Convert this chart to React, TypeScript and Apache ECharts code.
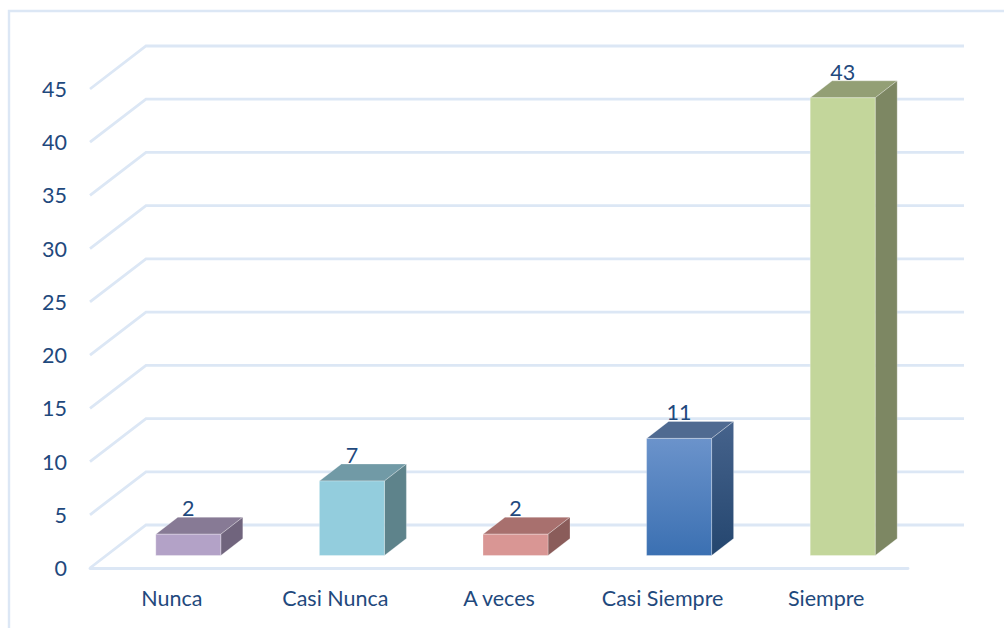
import React, { useEffect, useRef } from "react";
import * as echarts from "echarts";

const categories = ["Nunca", "Casi Nunca", "A veces", "Casi Siempre", "Siempre"];
const values = [2, 7, 2, 11, 43];
const yTicks = [0, 5, 10, 15, 20, 25, 30, 35, 40, 45];

// front, top and side face colours of each column; a pair is a top-to-bottom gradient
const frontColors = ["#b3a2c7", "#93cddd", "#d99694", ["#6b93cb", "#3b70b2"], "#c3d69b"];
const topColors = ["#877a95", "#719aa6", "#a8706e", "#4f6a91", "#939f75"];
const sideColors = ["#70647d", "#5e838b", "#8a5c5a", ["#46638c", "#24466f"], "#7d8763"];

const TEXT_COLOR = "#1f497d";
const GRID_COLOR = "#dce7f5";
const GRID_WIDTH = 2.8;
const FONT = "Lato, 'Noto Sans', sans-serif";
const FONT_SIZE = 21.5;

// oblique projection of the 3D box: wall depth, column placement and column depth
const WALL_DX = 56;
const WALL_DY = -43;
const BAR_DX = 16.5;
const BAR_DY = -12.5;
const BAR_WIDTH = 65;
const DEPTH_DX = 22;
const DEPTH_DY = -17;

const faceFill = (c: any) =>
  Array.isArray(c)
    ? new echarts.graphic.LinearGradient(0, 0, 0, 1, [
        { offset: 0, color: c[0] },
        { offset: 1, color: c[1] },
      ])
    : c;

// One gridline: a diagonal on the side wall, then the run along the back wall
const renderWallLine = (params: any, api: any) => {
  const [, y] = api.coord([0, api.value(0)]);
  const x0 = params.coordSys.x;
  const x1 = x0 + params.coordSys.width;
  const points = [
    [x0, y],
    [x0 + WALL_DX, y + WALL_DY],
    [x1 + WALL_DX, y + WALL_DY],
  ];
  return {
    type: "polyline",
    shape: { points },
    style: { stroke: GRID_COLOR, lineWidth: GRID_WIDTH, fill: "none" },
  };
};

const renderColumn = (params: any, api: any) => {
  const i = params.dataIndex;
  const value = api.value(1);
  const [cx, top] = api.coord([i, value]);
  const [, base] = api.coord([i, 0]);
  const l = cx + BAR_DX - BAR_WIDTH / 2;
  const r = l + BAR_WIDTH;
  const t = top + BAR_DY;
  const b = base + BAR_DY;
  const border = { stroke: "rgba(255,255,255,0.35)", lineWidth: 0.8 };
  return {
    type: "group",
    children: [
      {
        type: "polygon",
        shape: { points: [[l, t], [l + DEPTH_DX, t + DEPTH_DY], [r + DEPTH_DX, t + DEPTH_DY], [r, t]] },
        style: { fill: topColors[i], ...border },
      },
      {
        type: "polygon",
        shape: { points: [[r, t], [r + DEPTH_DX, t + DEPTH_DY], [r + DEPTH_DX, b + DEPTH_DY], [r, b]] },
        style: { fill: faceFill(sideColors[i]), ...border },
      },
      {
        type: "rect",
        shape: { x: l, y: t, width: BAR_WIDTH, height: b - t },
        style: { fill: faceFill(frontColors[i]), ...border },
      },
      {
        type: "text",
        style: {
          text: String(value),
          x: cx + BAR_DX,
          y: t + DEPTH_DY + 2,
          textAlign: "center",
          textVerticalAlign: "bottom",
          fill: TEXT_COLOR,
          font: `${FONT_SIZE}px ${FONT}`,
        },
      },
    ],
  };
};

export default function App() {
  const ref = useRef<HTMLDivElement>(null);

  useEffect(() => {
    const chart = echarts.init(ref.current!, undefined, { renderer: "svg" });
    chart.setOption({
      animation: false,
      backgroundColor: "#ffffff",
      textStyle: { fontFamily: FONT },
      grid: { left: 90, right: 96, top: 89, bottom: 60 },
      graphic: [
        {
          type: "polyline",
          silent: true,
          shape: { points: [[1004, 11], [9, 11], [9, 628]] },
          style: { stroke: GRID_COLOR, lineWidth: 2.4, fill: "none" },
        },
      ],
      xAxis: {
        type: "category",
        data: categories,
        axisLine: { lineStyle: { color: GRID_COLOR, width: GRID_WIDTH } },
        axisTick: { show: false },
        axisLabel: { color: TEXT_COLOR, fontSize: FONT_SIZE, fontFamily: FONT, margin: 19 },
      },
      yAxis: {
        type: "value",
        min: 0,
        max: 45,
        interval: 5,
        axisLine: { show: false },
        axisTick: { show: false },
        splitLine: { show: false },
        axisLabel: {
          color: TEXT_COLOR,
          fontSize: FONT_SIZE,
          fontFamily: FONT,
          margin: 23,
          padding: [2, 0, 0, 0],
        },
      },
      series: [
        {
          type: "custom",
          clip: false,
          z: 1,
          data: yTicks.map((v) => [v]),
          encode: { y: 0 },
          renderItem: renderWallLine,
          silent: true,
        },
        {
          type: "custom",
          clip: false,
          z: 2,
          data: values.map((v, i) => [i, v]),
          encode: { x: 0, y: 1 },
          renderItem: renderColumn,
          silent: true,
        },
      ],
    });
    return () => chart.dispose();
  }, []);

  return (
    <div
      ref={ref}
      style={{ position: "fixed", left: 0, top: 0, width: 1004, height: 628 }}
    />
  );
}
